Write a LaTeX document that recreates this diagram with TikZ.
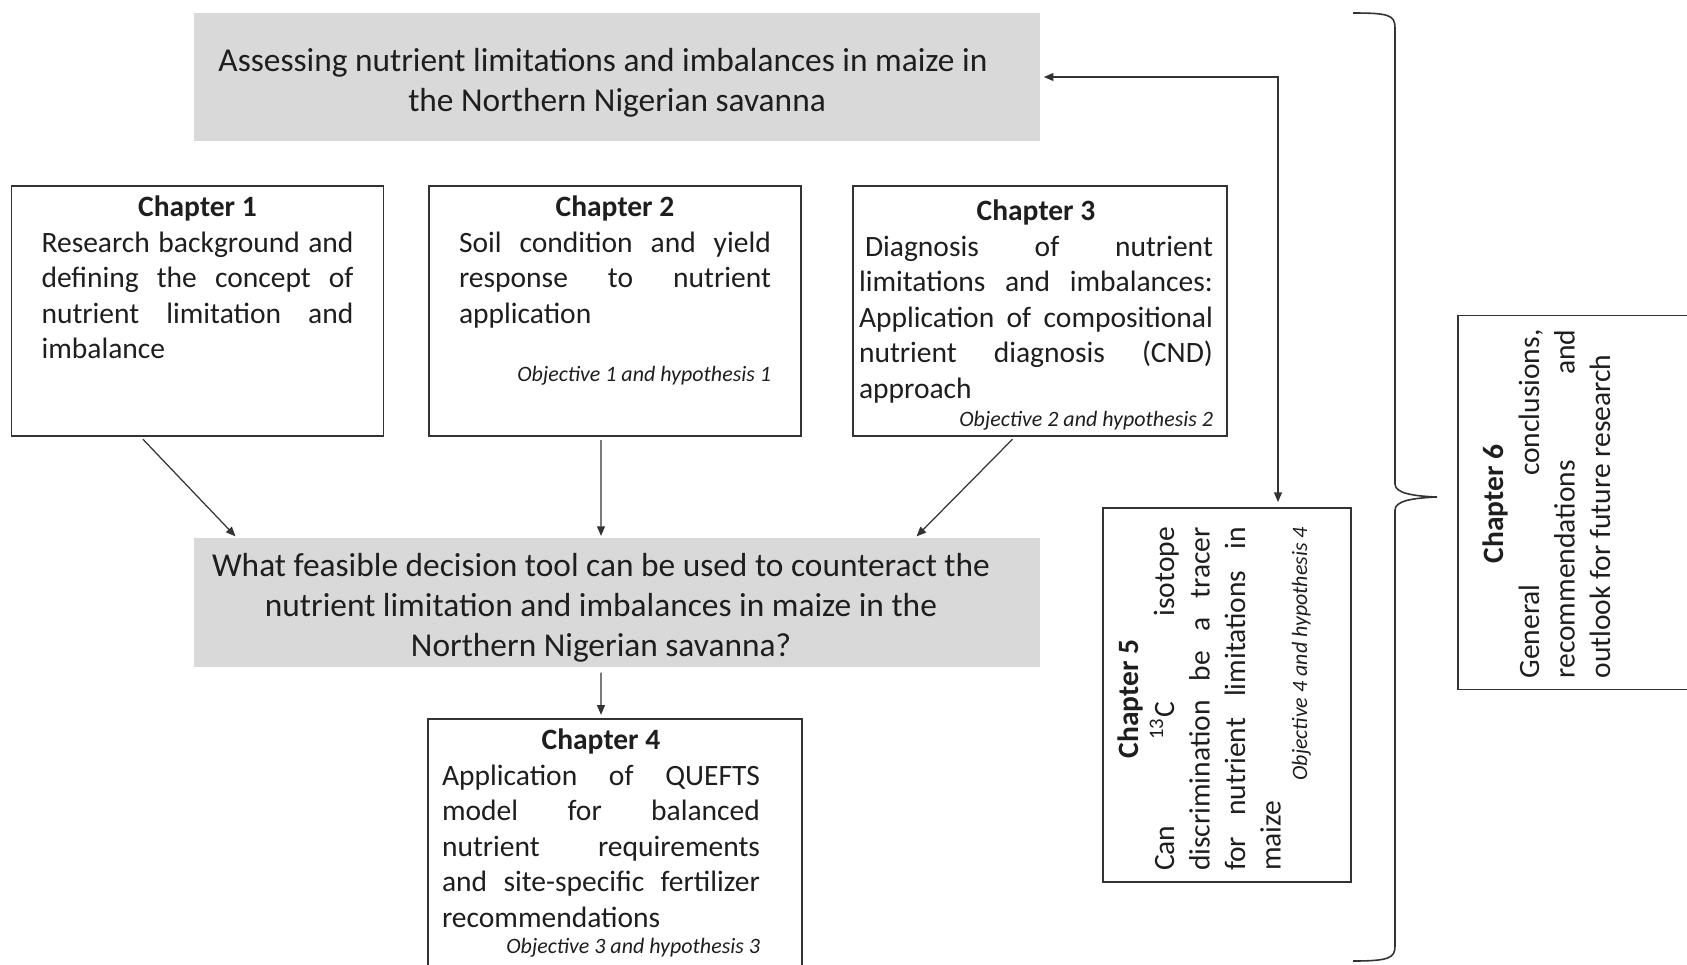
\documentclass[tikz,border=0pt]{standalone}
\usepackage{fontspec}
\setmainfont{Carlito}
\usetikzlibrary{positioning, calc, arrows.meta}
\definecolor{Dark}{HTML}{333333}
\definecolor{Panel}{HTML}{D9D9D9}
\definecolor{Ink}{HTML}{1E1E1E}
\hyphenpenalty=10000
\exhyphenpenalty=10000
\newcommand{\chaptitle}[1]{{\centering\textbf{#1}\par}}
\newcommand{\objtext}[1]{{\raggedleft\fontsize{12.5}{15}\selectfont\itshape #1\par}}
\tikzset{
    panel/.style={rectangle, fill=Panel, minimum width=16.92cm},
    paneltext/.style={align=center, text=Ink, inner sep=0pt, font=\fontsize{19}{22.8}\selectfont},
    chapbox/.style={rectangle, draw=Dark, line width=0.8pt, text=Ink, inner ysep=0.2cm, font=\fontsize{16.8}{20.2}\selectfont},
    arrow/.style={-{Triangle[length=5.5pt, width=4.5pt]}, line width=0.7pt, color=Dark},
    link/.style={{Triangle[length=5.5pt, width=4.5pt]}-{Triangle[length=5.5pt, width=4.5pt]}, line width=0.7pt, color=Dark},
    brace/.style={line width=0.9pt, color=Dark},
}

\begin{document}
\begin{tikzpicture}[x=0.02cm, y=-0.02cm]
    \useasboundingbox (0,0) rectangle (1687,964);

    % Leading questions
    \node[panel, minimum height=2.56cm] (aim) at (617,77) {};
    \node[paneltext] (aimtext) at (617,82.4) {Assessing nutrient limitations and imbalances in maize in\hspace*{0.56cm}\\ the Northern Nigerian savanna};
    \node[panel, minimum height=2.58cm] (tool) at (617,602.5) {};
    \node[paneltext] (tooltext) at (601,608) {What feasible decision tool can be used to counteract the\\ nutrient limitation and imbalances in maize in the\\ Northern Nigerian savanna?};

    % Chapters 1-3
    \node[chapbox, inner xsep=0.6cm] (ch1) at (197.5,311) {\parbox[t][4.6cm][t]{6.24cm}{\chaptitle{Chapter 1}Research background and\linebreak defining the concept of\linebreak nutrient limitation and\linebreak imbalance}};
    \node[chapbox, inner xsep=0.6cm] (ch2) at (615,311) {\parbox[t][4.6cm][t]{6.24cm}{\chaptitle{Chapter 2}Soil condition and yield\linebreak response to nutrient\linebreak application\par\vspace{0.64cm}\objtext{Objective 1 and hypothesis 1}}};
    \node[chapbox, inner xsep=0.12cm] (ch3) at (1040,311) {\parbox[t][4.6cm][t]{7.08cm}{\vspace*{0.08cm}\chaptitle{Chapter 3}\hspace*{0.12cm}Diagnosis of nutrient\linebreak limitations and imbalances:\linebreak Application of compositional\linebreak nutrient diagnosis (CND)\linebreak approach\par\vspace{0.04cm}\objtext{Objective 2 and hypothesis 2}}\hspace*{0.16cm}};

    % Chapter 4
    \node[chapbox, inner xsep=0.28cm] (ch4) at (615,851.5) {\parbox[t][4.9cm][t]{6.36cm}{\chaptitle{Chapter 4}Application of QUEFTS\linebreak model for balanced\linebreak nutrient requirements\linebreak and site-specific fertilizer\linebreak recommendations\par\objtext{Objective 3 and hypothesis 3}}\hspace*{0.56cm}};

    % Chapters 5 and 6, turned
    \node[chapbox, rotate=90, inner xsep=0.22cm, inner ysep=0.3cm] (ch5) at (1227,695) {\parbox[t][4.36cm][t]{6.88cm}{\chaptitle{Chapter 5}Can \textsuperscript{13}C isotope\linebreak discrimination be a tracer\linebreak for nutrient limitations in\linebreak maize\par\objtext{Objective 4 and hypothesis 4}}\hspace*{0.16cm}};
    \node[chapbox, rotate=90, inner xsep=0.22cm, inner ysep=0.5cm] (ch6) at (1589,502.5) {\parbox[t][4.24cm][t]{6.98cm}{\chaptitle{Chapter 6}General conclusions,\linebreak recommendations and\linebreak outlook for future research}\hspace*{0.06cm}};

    % Connectors
    \draw[arrow, shorten <=2pt, shorten >=1pt] ([xshift=-1.14cm]ch1.south) -- ([xshift=0.86cm]tool.north west);
    \draw[arrow, shorten <=2pt, shorten >=1pt] ([xshift=-0.28cm]ch2.south) -- ([xshift=-0.32cm]tool.north);
    \draw[arrow, shorten <=2pt, shorten >=1pt] ([xshift=-0.5cm]ch3.south) -- ([xshift=-2.5cm]tool.north east);
    \draw[arrow, shorten <=3pt, shorten >=2pt] ([xshift=-0.32cm]tool.south) -- ([xshift=-0.28cm]ch4.north);
    \draw[link, shorten <=2pt, shorten >=3pt] (aim.east) -| ([xshift=1.02cm]ch5.east);

    % Brace
    \draw[brace] (1353,13) .. controls (1389,13) and (1395,15) .. (1395,28) -- (1395,484)
        .. controls (1395,493) and (1412,496) .. (1437,497)
        .. controls (1412,498) and (1395,501) .. (1395,510) -- (1395,946)
        .. controls (1395,958) and (1389,961) .. (1353,961);
\end{tikzpicture}
\end{document}
